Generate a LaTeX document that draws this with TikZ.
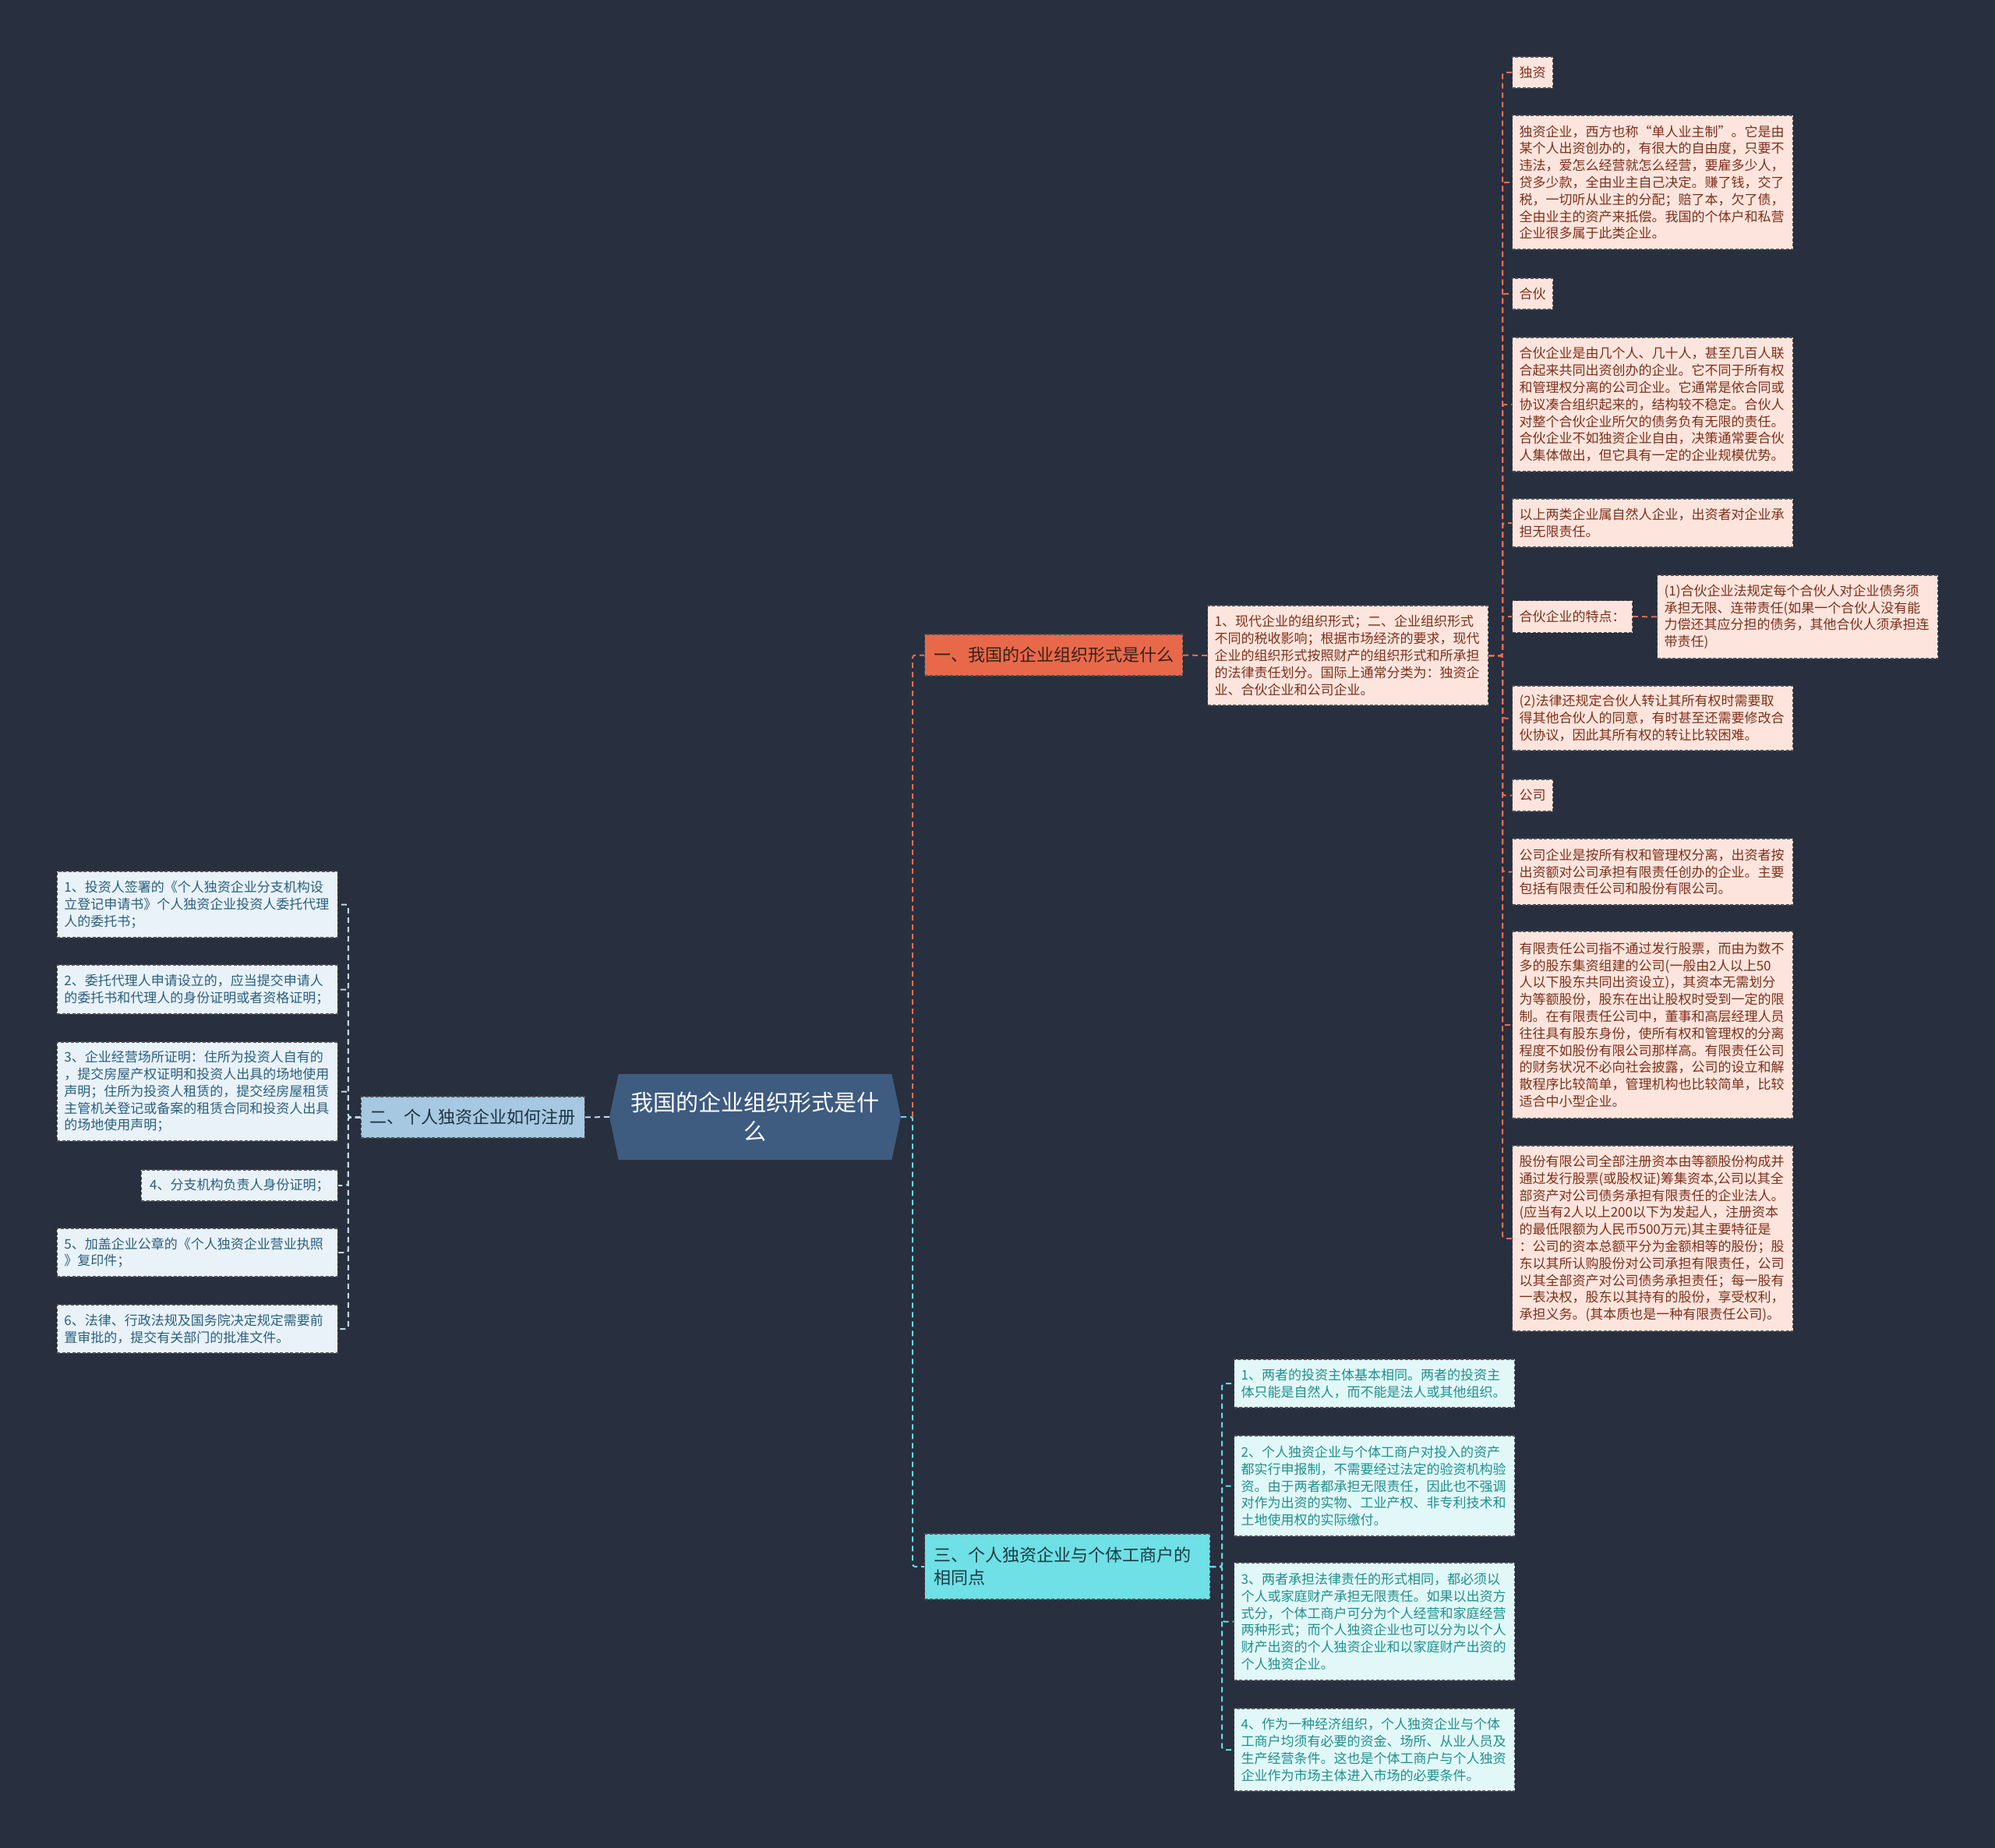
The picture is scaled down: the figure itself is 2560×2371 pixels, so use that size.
\documentclass[tikz,border=0pt]{standalone}
\usepackage{fontspec}
\setmainfont{Noto Sans CJK SC}
\usetikzlibrary{shapes.symbols}
\definecolor{bg}{HTML}{282F3E}
\definecolor{rootc}{HTML}{3E5B80}
\definecolor{onec}{HTML}{E8694A}
\definecolor{onetext}{HTML}{3A1F17}
\definecolor{twoc}{HTML}{A6C8E0}
\definecolor{twotext}{HTML}{1E3346}
\definecolor{threec}{HTML}{6EE0E6}
\definecolor{threetext}{HTML}{1B3A44}
\definecolor{rfill}{HTML}{FDE5DE}
\definecolor{rtext}{HTML}{7E2F18}
\definecolor{lfill}{HTML}{E9F2F8}
\definecolor{ltext}{HTML}{2A5F80}
\definecolor{mfill}{HTML}{E2F8F8}
\definecolor{mtext}{HTML}{1F8F8E}
\definecolor{bordc}{HTML}{4D4F55}
\definecolor{linkr}{HTML}{E06E55}
\definecolor{linkl}{HTML}{C4D9E8}
\definecolor{linkc}{HTML}{66D9E0}
\begin{document}
\begin{tikzpicture}[x=1pt,y=-1pt,
  box/.style={draw=bordc, line width=1.2pt, dash pattern=on 4pt off 2.5pt, inner ysep=0pt, align=left},
  leaffont/.style={font=\fontsize{17}{21.8}\selectfont},
  rleaf/.style={box, leaffont, fill=rfill, text=rtext, inner xsep=9pt, anchor=west},
  rwide/.style={rleaf, text width=342pt},
  lleaf/.style={box, leaffont, fill=lfill, text=ltext, inner xsep=9pt, anchor=east},
  lwide/.style={lleaf, text width=342pt},
  mleaf/.style={box, leaffont, fill=mfill, text=mtext, inner xsep=9pt, anchor=west, text width=342pt},
  mainfont/.style={font=\fontsize{22}{29}\selectfont},
  link/.style={line width=2pt, dash pattern=on 7pt off 5pt, rounded corners=3pt},
  linkR/.style={link, draw=linkr},
  linkL/.style={link, draw=linkl},
  linkC/.style={link, draw=linkc}
]
\fill[bg] (0,0) rectangle (2560,2371);
\useasboundingbox (0,0) rectangle (2560,2371);

% root
\node[signal, signal to=west and east, signal pointer angle=156, fill=rootc, text=white,
  font=\fontsize{29}{37}\selectfont, align=center, minimum width=374pt, minimum height=110pt, inner sep=0pt]
  (root) at (969,1433) {我国的企业组织形式是什\\么};

% main branches
\node[box, mainfont, fill=onec, text=onetext, anchor=west, minimum width=331pt, minimum height=53pt, inner xsep=11pt]
  (b1) at (1186,840.5) {一、我国的企业组织形式是什么};
\node[box, mainfont, fill=twoc, text=twotext, anchor=east, minimum width=287pt, minimum height=53pt, inner xsep=11pt]
  (b2) at (751,1433.5) {二、个人独资企业如何注册};
\node[box, mainfont, fill=threec, text=threetext, anchor=west, text width=342pt, inner xsep=12pt, minimum height=84pt]
  (b3) at (1186,2010) {三、个人独资企业与个体工商户的\\相同点};

% branch one
\node[rwide, minimum height=128pt] (n1) at (1549,841) {1、现代企业的组织形式；二、企业组织形式\\不同的税收影响；根据市场经济的要求，现代\\企业的组织形式按照财产的组织形式和所承担\\的法律责任划分。国际上通常分类为：独资企\\业、合伙企业和公司企业。};

\node[rleaf, minimum height=40pt] (r1) at (1940,93) {独资};
\node[rwide, minimum height=172pt] (r2) at (1940,234) {独资企业，西方也称“单人业主制”。它是由\\某个人出资创办的，有很大的自由度，只要不\\违法，爱怎么经营就怎么经营，要雇多少人，\\贷多少款，全由业主自己决定。赚了钱，交了\\税，一切听从业主的分配；赔了本，欠了债，\\全由业主的资产来抵偿。我国的个体户和私营\\企业很多属于此类企业。};
\node[rleaf, minimum height=40pt] (r3) at (1940,377) {合伙};
\node[rwide, minimum height=172pt] (r4) at (1940,519) {合伙企业是由几个人、几十人，甚至几百人联\\合起来共同出资创办的企业。它不同于所有权\\和管理权分离的公司企业。它通常是依合同或\\协议凑合组织起来的，结构较不稳定。合伙人\\对整个合伙企业所欠的债务负有无限的责任。\\合伙企业不如独资企业自由，决策通常要合伙\\人集体做出，但它具有一定的企业规模优势。};
\node[rwide, minimum height=62pt] (r5) at (1940,671) {以上两类企业属自然人企业，出资者对企业承\\担无限责任。};
\node[rleaf, minimum height=41pt] (r6) at (1940,791) {合伙企业的特点：};
\node[rwide, minimum height=107pt] (r6a) at (2126,791.5) {(1)合伙企业法规定每个合伙人对企业债务须\\承担无限、连带责任(如果一个合伙人没有能\\力偿还其应分担的债务，其他合伙人须承担连\\带责任)};
\node[rwide, minimum height=83pt] (r7) at (1940,921.5) {(2)法律还规定合伙人转让其所有权时需要取\\得其他合伙人的同意，有时甚至还需要修改合\\伙协议，因此其所有权的转让比较困难。};
\node[rleaf, minimum height=41pt] (r8) at (1940,1020.5) {公司};
\node[rwide, minimum height=85pt] (r9) at (1940,1118.5) {公司企业是按所有权和管理权分离，出资者按\\出资额对公司承担有限责任创办的企业。主要\\包括有限责任公司和股份有限公司。};
\node[rwide, minimum height=240pt] (r10) at (1940,1315) {有限责任公司指不通过发行股票，而由为数不\\多的股东集资组建的公司(一般由2人以上50\\人以下股东共同出资设立)，其资本无需划分\\为等额股份，股东在出让股权时受到一定的限\\制。在有限责任公司中，董事和高层经理人员\\往往具有股东身份，使所有权和管理权的分离\\程度不如股份有限公司那样高。有限责任公司\\的财务状况不必向社会披露，公司的设立和解\\散程序比较简单，管理机构也比较简单，比较\\适合中小型企业。};
\node[rwide, minimum height=238pt] (r11) at (1940,1589) {股份有限公司全部注册资本由等额股份构成并\\通过发行股票(或股权证)筹集资本,公司以其全\\部资产对公司债务承担有限责任的企业法人。\\(应当有2人以上200以下为发起人，注册资本\\的最低限额为人民币500万元)其主要特征是\\：公司的资本总额平分为金额相等的股份；股\\东以其所认购股份对公司承担有限责任，公司\\以其全部资产对公司债务承担责任；每一股有\\一表决权，股东以其持有的股份，享受权利，\\承担义务。(其本质也是一种有限责任公司)。};

% branch two
\node[lwide, minimum height=85pt] (l1) at (434,1160.5) {1、投资人签署的《个人独资企业分支机构设\\立登记申请书》个人独资企业投资人委托代理\\人的委托书；};
\node[lwide, minimum height=63pt] (l2) at (434,1269.5) {2、委托代理人申请设立的，应当提交申请人\\的委托书和代理人的身份证明或者资格证明；};
\node[lwide, minimum height=127pt] (l3) at (434,1400.5) {3、企业经营场所证明：住所为投资人自有的\\，提交房屋产权证明和投资人出具的场地使用\\声明；住所为投资人租赁的，提交经房屋租赁\\主管机关登记或备案的租赁合同和投资人出具\\的场地使用声明；};
\node[lleaf, minimum height=40pt, minimum width=252pt] (l4) at (434,1521) {4、分支机构负责人身份证明；};
\node[lwide, minimum height=62pt] (l5) at (434,1607) {5、加盖企业公章的《个人独资企业营业执照\\》复印件；};
\node[lwide, minimum height=62pt] (l6) at (434,1705) {6、法律、行政法规及国务院决定规定需要前\\置审批的，提交有关部门的批准文件。};

% branch three
\node[mleaf, minimum height=62pt] (m1) at (1583,1775) {1、两者的投资主体基本相同。两者的投资主\\体只能是自然人，而不能是法人或其他组织。};
\node[mleaf, minimum height=129pt] (m2) at (1583,1906.5) {2、个人独资企业与个体工商户对投入的资产\\都实行申报制，不需要经过法定的验资机构验\\资。由于两者都承担无限责任，因此也不强调\\对作为出资的实物、工业产权、非专利技术和\\土地使用权的实际缴付。};
\node[mleaf, minimum height=151pt] (m3) at (1583,2080.5) {3、两者承担法律责任的形式相同，都必须以\\个人或家庭财产承担无限责任。如果以出资方\\式分，个体工商户可分为个人经营和家庭经营\\两种形式；而个人独资企业也可以分为以个人\\财产出资的个人独资企业和以家庭财产出资的\\个人独资企业。};
\node[mleaf, minimum height=106pt] (m4) at (1583,2245) {4、作为一种经济组织，个人独资企业与个体\\工商户均须有必要的资金、场所、从业人员及\\生产经营条件。这也是个体工商户与个人独资\\企业作为市场主体进入市场的必要条件。};

% connectors
\draw[linkC] (root.east) -- ++(15,0) |- (b3.west);
\draw[linkR] (root.east) ++(15,0) |- (b1.west);
\draw[linkL] (root.west) -- (b2.east);
\draw[linkR] (b1.east) -- (n1.west);
\foreach \r in {r1,r2,r3,r4,r5,r6,r7,r8,r9,r10,r11}
  \draw[linkR] (n1.east) -- ++(18,0) |- (\r.west);
\draw[linkR] (r6.east) -- (r6a.west);
\foreach \l in {l1,l2,l3,l4,l5,l6}
  \draw[linkL] (b2.west) -- ++(-16,0) |- (\l.east);
\foreach \m in {m1,m2,m3,m4}
  \draw[linkC] (b3.east) -- ++(15,0) |- (\m.west);
\end{tikzpicture}
\end{document}
